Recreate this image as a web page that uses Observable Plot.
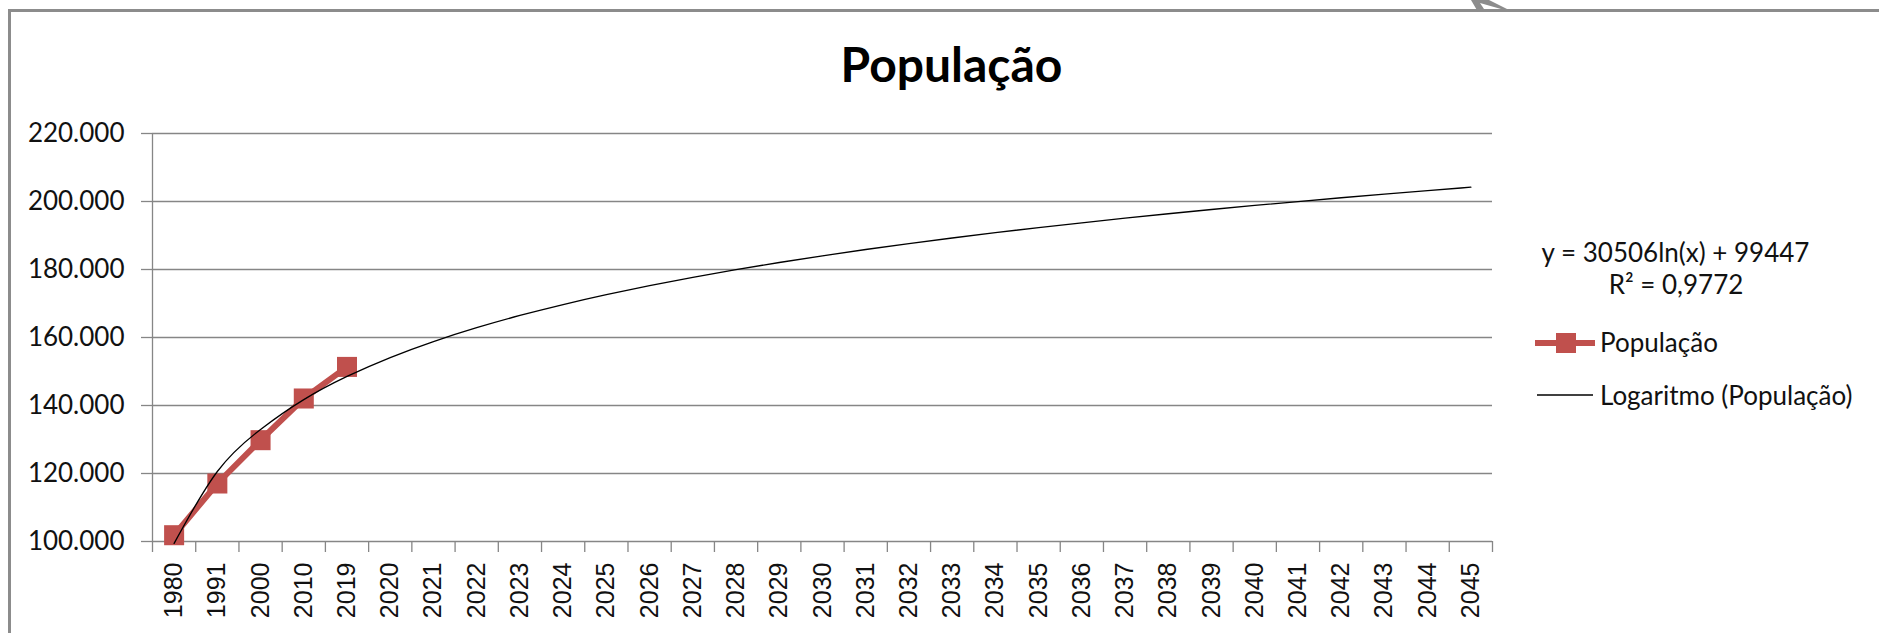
<!DOCTYPE html>
<html>
<head>
<meta charset="utf-8">
<script src="https://cdn.jsdelivr.net/npm/d3@7"></script>
<script src="https://cdn.jsdelivr.net/npm/@observablehq/plot@0.6"></script>
<style>
  html, body { margin: 0; padding: 0; background: #fff; overflow: hidden; }
  #wrap { position: relative; width: 1879px; height: 633px; overflow: hidden; }
  #frame { position: absolute; left: 8px; top: 9px; width: 2000px; height: 900px; border: 3px solid #8c8c8c; box-sizing: border-box; }
  #chart { position: absolute; left: 0; top: 0; }
  #overlay { position: absolute; left: 0; top: 0; }
</style>
</head>
<body>
<div id="wrap">
  <div id="frame"></div>
  <div id="chart"></div>
  <svg id="overlay" width="1879" height="633" xmlns="http://www.w3.org/2000/svg"></svg>
</div>
<script>
// ---- data ----
const years = ["1980","1991","2000","2010","2019","2020","2021","2022","2023","2024","2025","2026","2027","2028","2029","2030","2031","2032","2033","2034","2035","2036","2037","2038","2039","2040","2041","2042","2043","2044","2045"];
const population = [101850, 117060, 129800, 142060, 151350];
const trend = [99447, 120592, 132961, 141737, 148544, 154106, 158809, 162882, 166475, 169689, 172597, 175251, 177693, 179954, 182058, 184027, 185877, 187620, 189270, 190834, 192323, 193742, 195098, 196396, 197642, 198838, 199989, 201099, 202169, 203204, 204204];
const yTicks = [100000, 120000, 140000, 160000, 180000, 200000, 220000];
const titleText = "População";
const seriesName = "População";
const trendName = "Logaritmo (População)";
const equationText = "y = 30506ln(x) + 99447";
const r2Text = "R² = 0,9772";

// ---- styles ----
const RED = "#C0504D";
const GRID = "#868686";
const fmt = d3.formatLocale({thousands: ".", decimal: ",", grouping: [3], currency: ["", ""]}).format(",");

const popData = population.map((v, i) => ({x: i + 0.5, y: v}));
const trendData = trend.map((v, i) => ({x: i + 0.5, y: v}));
const boundaries = d3.range(years.length + 1);
const centers = years.map((d, i) => i + 0.5);

const chart = Plot.plot({
  width: 1879,
  height: 633,
  marginLeft: 152,
  marginRight: 387,
  marginTop: 133,
  marginBottom: 92,
  style: {background: "transparent", overflow: "visible"},
  x: {type: "linear", domain: [0, years.length], axis: null, label: null},
  y: {domain: [100000, 220000], axis: null, label: null},
  marks: [
    Plot.gridY(yTicks, {stroke: GRID, strokeOpacity: 1, strokeWidth: 1.3}),
    Plot.axisY(yTicks, {anchor: "left", label: null, tickSize: 11, tickPadding: 17, tickFormat: fmt, stroke: GRID, strokeWidth: 1.3, fill: "#111", fontSize: 26, fontFamily: "Lato"}),
    Plot.ruleX([0], {y1: 100000, y2: 220000, stroke: GRID, strokeWidth: 1.3}),
    Plot.axisX(boundaries, {anchor: "bottom", label: null, tickSize: 11, tickFormat: () => "", stroke: GRID, strokeWidth: 1.3}),
    Plot.axisX(centers, {anchor: "bottom", label: null, tickSize: 0, tickPadding: 21, tickRotate: -90, textAnchor: "end", lineAnchor: "middle", tickFormat: (d) => years[Math.round(d - 0.5)], fill: "#111", fontSize: 25, fontFamily: "Liberation Sans"}),
    Plot.line(popData, {x: "x", y: "y", stroke: RED, strokeWidth: 6}),
    Plot.dot(popData, {x: "x", y: "y", symbol: "square", r: 11.3, fill: RED, stroke: "none"}),
    Plot.line(trendData, {x: "x", y: "y", curve: "natural", stroke: "#000", strokeWidth: 1.3})
  ]
});
document.getElementById("chart").appendChild(chart);

// ---- overlay: title, legend, equation, decoration ----
const ov = d3.select("#overlay");
// small arrow artifact at top border
ov.append("path").attr("d", "M1471,0 L1478,12 L1513,12 L1489,0 Z").attr("fill", "#8c8c8c");
ov.append("path").attr("d", "M1480,3 L1484,9 L1501,9 Z").attr("fill", "#fff");

ov.append("text").attr("x", 951.5).attr("y", 82).attr("text-anchor", "middle")
  .attr("font-family", "Lato").attr("font-weight", "bold").attr("font-size", 48).attr("fill", "#000").text(titleText);

ov.append("text").attr("x", 1675.5).attr("y", 262).attr("text-anchor", "middle")
  .attr("font-family", "Lato").attr("font-size", 26).attr("fill", "#111").text(equationText);
ov.append("text").attr("x", 1676).attr("y", 294).attr("text-anchor", "middle")
  .attr("font-family", "Lato").attr("font-size", 26).attr("fill", "#111").text(r2Text);

ov.append("line").attr("x1", 1535).attr("x2", 1595).attr("y1", 343).attr("y2", 343).attr("stroke", RED).attr("stroke-width", 6);
ov.append("rect").attr("x", 1556).attr("y", 333).attr("width", 20).attr("height", 20).attr("fill", RED);
ov.append("text").attr("x", 1600).attr("y", 352)
  .attr("font-family", "Lato").attr("font-size", 26).attr("fill", "#111").text(seriesName);

ov.append("line").attr("x1", 1537).attr("x2", 1593).attr("y1", 395).attr("y2", 395).attr("stroke", "#000").attr("stroke-width", 1.3);
ov.append("text").attr("x", 1600).attr("y", 405)
  .attr("font-family", "Lato").attr("font-size", 26).attr("fill", "#111").text(trendName);
</script>
</body>
</html>
